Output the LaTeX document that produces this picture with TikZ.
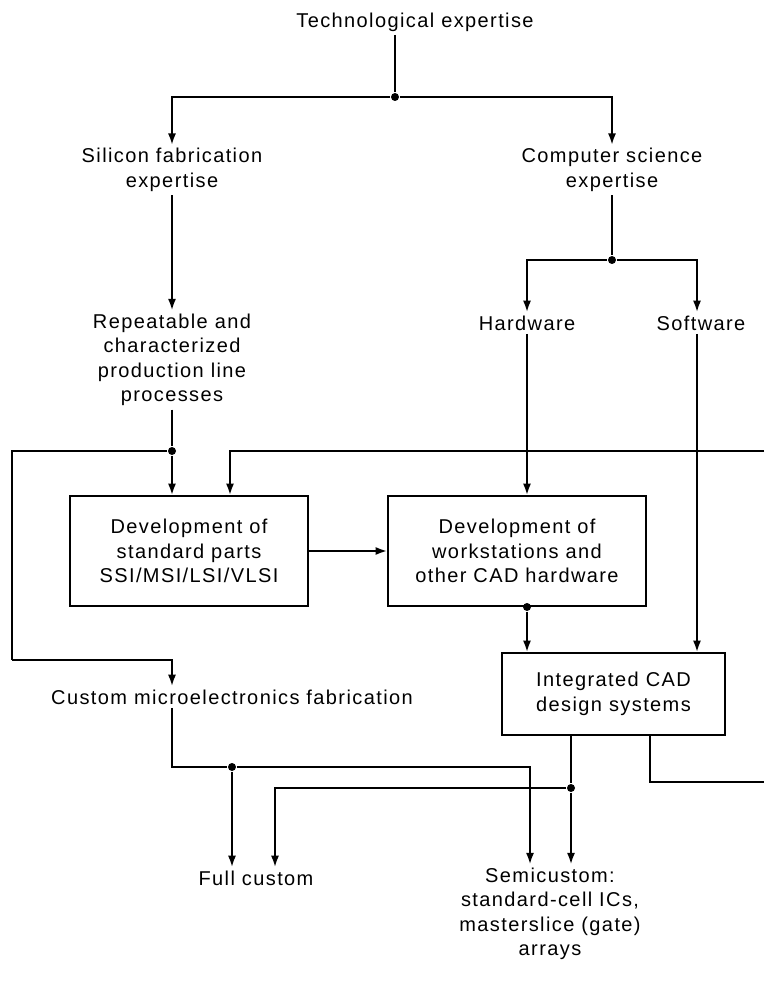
\documentclass[tikz,border=0pt]{standalone}
\usepackage{fontspec}
\setmainfont{Liberation Sans}[LetterSpace=7]
\usetikzlibrary{arrows.meta,calc}

\begin{document}
\begin{tikzpicture}[
        x=0.75pt, y=-0.75pt,
        line width=1.4pt,
        lbl/.style={align=center, inner sep=2pt, font=\fontsize{15}{18.4}\selectfont},
        box/.style={lbl, draw=black, line width=1.5pt, minimum height=82.5pt},
        dot/.style={circle, fill=black, inner sep=0pt, minimum size=6pt},
        arr/.style={-{Latex[length=8.5pt,width=6pt]}}
    ]
        \useasboundingbox (0,0) rectangle (764,994);

        \node[lbl] (tech) at (415,22) {Technological expertise};
        \node[dot] (j1)   at (395,97) {};
        \node[lbl] (sil)  at (172,170) {Silicon fabrication\\expertise};
        \node[lbl] (cs)   at (612,170) {Computer science\\expertise};
        \node[dot] (j2)   at (612,260) {};
        \node[lbl] (rep)  at (172,360) {Repeatable and\\characterized\\production line\\processes};
        \node[lbl] (hw)   at (527,323) {Hardware};
        \node[lbl] (sw)   at (701,323) {Software};
        \node[dot] (j3)   at (172,451) {};

        \node[box, minimum width=178.5pt] (b1) at (189,551) {Development of\\standard parts\\SSI/MSI/LSI/VLSI};
        \node[box, minimum width=193.5pt] (b2) at (517,551) {Development of\\workstations and\\other CAD hardware};
        \node[box, minimum width=167.25pt, minimum height=61.5pt] (b3) at (613.5,694) {Integrated CAD\\design systems};
        \node[dot] (j4) at (b2.south -| hw) {};

        \node[lbl] (cm)   at (232,697) {Custom microelectronics fabrication};
        \node[dot] (j5)   at (232,767) {};
        \node[dot] (j6)   at (571,788) {};
        \node[lbl] (fc)   at (256,878) {Full custom};
        \node[lbl] (semi) at (550,914) {Semicustom:\\standard-cell ICs,\\masterslice (gate)\\arrays};

        \coordinate (fbR)  at (764,451);
        \coordinate (lc)   at (12,660);
        \coordinate (outR) at (764,782);

        \draw (j1 |- tech.south) -- (j1);
        \draw[arr] (j1) -| (sil);
        \draw[arr] (j1) -| (cs);
        \draw[arr] (sil) -- (rep);
        \draw (cs) -- (j2);
        \draw[arr] (j2) -| (hw);
        \draw[arr] (j2) -| ($(sw.north)+(-4,0)$);

        \draw (rep) -- (j3);
        \draw[arr] (j3) -- (b1.north -| j3);
        \draw (j3) -| (lc);
        \draw[arr] (lc) -| (cm.north -| j3);
        \draw[arr] (fbR) -| ($(b1.north)+(41,0)$);

        \draw[arr] (b1) -- (b2);
        \draw[arr] (hw) -- (b2.north -| hw);
        \draw[arr] ($(sw.south)+(-4,0)$) -- ($(b3.north -| sw)+(-4,0)$);
        \draw[arr] (j4) -- (b3.north -| j4);

        \draw (cm.south -| j3) |- (j5);
        \draw[arr] (j5) -- (fc.north -| j5);
        \draw[arr] (j5) -| ($(semi.north)+(-20,0)$);
        \draw (b3.south -| j6) -- (j6);
        \draw[arr] (j6) -- (semi.north -| j6);
        \draw[arr] (j6) -| ($(fc.north)+(19,0)$);
        \draw ($(b3.south)+(36.5,0)$) |- (outR);
    \end{tikzpicture}
\end{document}
